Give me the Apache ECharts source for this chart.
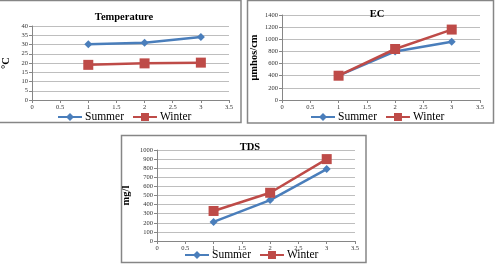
<!DOCTYPE html>
<html>
<head>
<meta charset="utf-8">
<script src="https://cdn.jsdelivr.net/npm/echarts@6/dist/echarts.min.js"></script>
<style>
  html, body { margin: 0; padding: 0; background: #fff; }
  #main { width: 497px; height: 265px; }
</style>
</head>
<body>
<div id="main"></div>
<script>
(function () {
  // data --------------------------------------------------------
  var xVals = [1, 2, 3];
  var tempSummer = [30.2, 31, 34];
  var tempWinter = [19, 19.8, 20.2];
  var ecSummer = [400, 800, 960];
  var ecWinter = [400, 840, 1160];
  var tdsSummer = [210, 450, 790];
  var tdsWinter = [330, 530, 900];

  var titles = ['Temperature', 'EC', 'TDS'];
  var yNames = ['°C', 'μmhos/cm', 'mg/l'];
  var yMax = [40, 1400, 1000];
  var yStep = [5, 200, 100];

  var blue = '#4A7EBB';
  var red = '#BE4B48';
  var serif = '"Liberation Serif", "DejaVu Serif", serif';

  // layout: one grid per panel
  var grids = [
    { left: 31, top: 26, width: 198, height: 74 },
    { left: 282, top: 15, width: 198, height: 85 },
    { left: 157, top: 150, width: 198, height: 91 }
  ];
  var titlePos = [
    { left: 119, top: 7 },
    { left: 372, top: 4 },
    { left: 245, top: 137 }
  ];
  var legendPos = [
    { left: 57, top: 111 },
    { left: 310, top: 111 },
    { left: 184, top: 249 }
  ];
  var nameGaps = [20, 22, 25];

  function pairs(ys) {
    return xVals.map(function (x, i) { return [x, ys[i]]; });
  }
  function plain(v) { return String(v); }

  var seriesData = [
    [tempSummer, tempWinter],
    [ecSummer, ecWinter],
    [tdsSummer, tdsWinter]
  ];

  var xAxes = [], yAxes = [], series = [], title = [], legend = [];

  for (var i = 0; i < 3; i++) {
    xAxes.push({
      type: 'value', gridIndex: i, min: 0, max: 3.5, interval: 0.5,
      axisLine: { lineStyle: { color: '#868686', width: 1 } },
      axisTick: { show: true, length: 3, lineStyle: { color: '#868686' } },
      axisLabel: { fontSize: 6.5, fontFamily: serif, color: '#333', margin: 4, formatter: plain },
      splitLine: { show: false }
    });
    yAxes.push({
      type: 'value', gridIndex: i, min: 0, max: yMax[i], interval: yStep[i],
      name: yNames[i], nameLocation: 'middle', nameGap: nameGaps[i],
      nameTextStyle: { fontSize: 10.5, fontWeight: 'bold', fontFamily: serif, color: '#000' },
      axisLine: { show: true, lineStyle: { color: '#868686', width: 1 } },
      axisTick: { show: true, length: 3, lineStyle: { color: '#868686' } },
      axisLabel: { fontSize: 6.5, fontFamily: serif, color: '#333', margin: 4, formatter: plain },
      splitLine: { show: true, lineStyle: { color: '#BEBEBE', width: 1 } }
    });
    series.push({
      name: 'Summer', type: 'line', xAxisIndex: i, yAxisIndex: i,
      data: pairs(seriesData[i][0]),
      symbol: 'diamond', symbolSize: 8,
      lineStyle: { color: blue, width: 2.5 },
      itemStyle: { color: blue }
    });
    series.push({
      name: 'Winter', type: 'line', xAxisIndex: i, yAxisIndex: i,
      data: pairs(seriesData[i][1]),
      symbol: 'rect', symbolSize: 10,
      lineStyle: { color: red, width: 2.5 },
      itemStyle: { color: red }
    });
    title.push({
      text: titles[i], left: titlePos[i].left, top: titlePos[i].top, textAlign: 'center',
      textStyle: { fontSize: 10.5, fontWeight: 'bold', fontFamily: serif, color: '#000' }
    });
    legend.push({
      data: ['Summer', 'Winter'], left: legendPos[i].left, top: legendPos[i].top,
      orient: 'horizontal', itemWidth: 24, itemHeight: 10, itemGap: 8, padding: 0,
      textStyle: { fontSize: 11.5, fontFamily: serif, color: '#000', padding: [0, 0, 0, -2] }
    });
  }

  var chart = echarts.init(document.getElementById('main'), null, { renderer: 'canvas' });
  chart.setOption({
    animation: false,
    title: title,
    legend: legend,
    grid: grids,
    xAxis: xAxes,
    yAxis: yAxes,
    series: series,
    graphic: [
      { type: 'rect', shape: { x: -1, y: 0.5, width: 242, height: 122 }, style: { fill: 'none', stroke: '#868686', lineWidth: 1.5 }, z: -1 },
      { type: 'rect', shape: { x: 247.5, y: 0.5, width: 246, height: 122.5 }, style: { fill: 'none', stroke: '#868686', lineWidth: 1.5 }, z: -1 },
      { type: 'rect', shape: { x: 121.5, y: 135.5, width: 244.5, height: 127 }, style: { fill: 'none', stroke: '#868686', lineWidth: 1.5 }, z: -1 }
    ]
  });
})();
</script>
</body>
</html>
